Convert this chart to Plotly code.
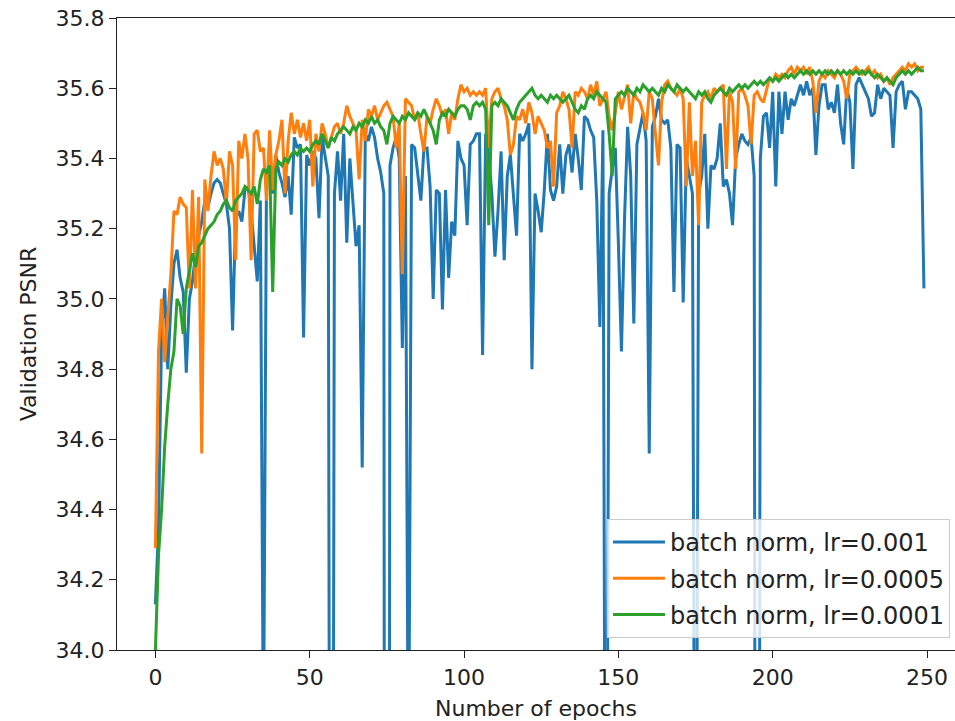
import plotly.graph_objects as go

epochs = list(range(250))

psnr_lr_0001 = [  # batch norm, lr=0.001 (blue)
    34.13, 34.35, 34.90, 35.03, 34.80, 34.98, 35.10, 35.14, 35.06, 35.02,
    34.79, 35.00, 35.05, 35.13, 35.18, 35.22, 35.28, 35.26, 35.30, 35.33,
    35.34, 35.33, 35.30, 35.27, 35.20, 34.91, 35.23, 35.25, 35.22, 35.31,
    35.32, 35.25, 35.15, 35.05, 35.28, 33.70, 35.37, 35.35, 35.30, 35.41,
    35.36, 35.33, 35.29, 35.35, 35.24, 35.46, 35.43, 35.44, 34.89, 35.41,
    35.38, 35.42, 35.40, 35.23, 35.46, 35.40, 35.35, 30.70, 35.30, 35.42,
    35.28, 35.47, 35.16, 35.40, 35.28, 35.15, 35.21, 34.52, 35.47, 35.45,
    35.49, 35.46, 35.40, 35.36, 35.30, 26.00, 35.38, 35.43, 35.46, 35.40,
    34.86, 35.35, 33.50, 35.44, 35.43, 35.35, 35.28, 35.43, 35.43, 35.32,
    35.00, 35.31, 35.30, 34.97, 35.31, 35.06, 35.22, 35.18, 35.45, 35.40,
    35.38, 35.21, 35.44, 35.45, 35.47, 35.47, 34.84, 35.47, 35.41, 35.30,
    35.12, 35.25, 35.42, 35.11, 35.35, 35.41, 35.30, 35.18, 35.47, 35.45,
    35.47, 35.50, 34.80, 35.30, 35.25, 35.19, 35.31, 35.47, 35.31, 35.28,
    35.32, 35.44, 35.30, 35.41, 35.44, 35.36, 35.47, 35.40, 35.31, 35.52,
    35.51, 35.48, 35.46, 35.28, 34.92, 35.48, 32.60, 35.30, 35.37, 35.43,
    35.16, 34.85, 35.23, 35.49, 35.35, 34.93, 35.44, 35.49, 35.53, 35.45,
    34.56, 35.49, 35.52, 35.57, 35.51, 35.50, 35.51, 35.43, 35.02, 35.44,
    35.43, 34.99, 35.40, 35.35, 35.30, 32.60, 35.30, 35.35, 35.47, 35.20,
    35.38, 35.37, 35.40, 35.50, 35.32, 35.34, 35.30, 35.21, 35.40, 35.44,
    35.47, 35.45, 35.44, 35.46, 35.35, 29.00, 35.40, 35.52, 35.53, 35.43,
    35.59, 35.32, 35.59, 35.47, 35.59, 35.51, 35.57, 35.55, 35.58, 35.61,
    35.58, 35.62, 35.58, 35.60, 35.41, 35.55, 35.61, 35.61, 35.54, 35.56,
    35.53, 35.61, 35.50, 35.44, 35.60, 35.56, 35.37, 35.61, 35.63, 35.61,
    35.59, 35.57, 35.52, 35.53, 35.61, 35.57, 35.60, 35.59, 35.58, 35.43,
    35.59, 35.61, 35.62, 35.54, 35.59, 35.59, 35.58, 35.57, 35.54, 35.03,
]

psnr_lr_00005 = [  # batch norm, lr=0.0005 (orange)
    34.29, 34.85, 35.00, 34.82, 34.95, 35.07, 35.25, 35.24, 35.29, 35.27,
    35.26, 35.03, 35.31, 35.03, 35.29, 34.56, 35.34, 35.25, 35.35, 35.42,
    35.38, 35.40, 35.37, 35.27, 35.42, 35.38, 35.11, 35.45, 35.40, 35.47,
    35.40, 35.11, 35.47, 35.48, 35.42, 35.43, 35.28, 35.48, 35.31, 35.41,
    35.45, 35.51, 35.30, 35.45, 35.53, 35.47, 35.51, 35.46, 35.50, 35.45,
    35.51, 35.32, 35.47, 35.42, 35.50, 35.47, 35.43, 35.46, 35.49, 35.50,
    35.47, 35.50, 35.55, 35.52, 35.50, 35.48, 35.34, 35.51, 35.45, 35.54,
    35.52, 35.55, 35.51, 35.53, 35.55, 35.56, 35.54, 35.52, 35.43, 35.50,
    35.07, 35.57, 35.56, 35.55, 35.51, 35.53, 35.47, 35.42, 35.52, 35.50,
    35.54, 35.57, 35.55, 35.52, 35.54, 35.47, 35.53, 35.51, 35.57, 35.61,
    35.59, 35.60, 35.58, 35.59, 35.58, 35.59, 35.58, 35.60, 35.43, 35.57,
    35.59, 35.60, 35.57, 35.55, 35.51, 35.41, 35.44, 35.52, 35.51, 35.54,
    35.50, 35.56, 35.53, 35.47, 35.52, 35.50, 35.48, 35.43, 35.45, 35.32,
    35.53, 35.55, 35.59, 35.57, 35.54, 35.43, 35.59, 35.58, 35.60, 35.59,
    35.57, 35.61, 35.58, 35.62, 35.55, 35.57, 35.59, 35.52, 35.48, 35.53,
    35.59, 35.54, 35.58, 35.61, 35.50, 35.59, 35.57, 35.56, 35.53, 35.48,
    35.59, 35.57, 35.47, 35.38, 35.56, 35.61, 35.62, 35.60, 35.59, 35.58,
    35.60, 35.57, 35.32, 35.56, 35.35, 35.45, 35.21, 35.56, 35.58, 35.59,
    35.57, 35.60, 35.59, 35.60, 35.61, 35.37, 35.59, 35.56, 35.37, 35.59,
    35.60, 35.58, 35.55, 35.44, 35.58, 35.59, 35.57, 35.56, 35.60, 35.63,
    35.62, 35.64, 35.63, 35.64, 35.63, 35.65, 35.66, 35.64, 35.66, 35.65,
    35.66, 35.64, 35.66, 35.62, 35.53, 35.62, 35.64, 35.63, 35.65, 35.64,
    35.63, 35.65, 35.64, 35.62, 35.57, 35.64, 35.65, 35.66, 35.65, 35.64,
    35.65, 35.66, 35.64, 35.65, 35.63, 35.64, 35.62, 35.63, 35.61, 35.63,
    35.64, 35.65, 35.66, 35.65, 35.67, 35.66, 35.67, 35.65, 35.66, 35.66,
]

psnr_lr_00001 = [  # batch norm, lr=0.0001 (green)
    34.00, 34.27, 34.40, 34.58, 34.70, 34.80, 34.85, 35.00, 34.98, 34.90,
    35.03, 35.08, 35.13, 35.09, 35.15, 35.16, 35.18, 35.20, 35.21, 35.22,
    35.24, 35.25, 35.27, 35.28, 35.26, 35.25, 35.28, 35.29, 35.30, 35.32,
    35.31, 35.30, 35.32, 35.27, 35.34, 35.37, 35.36, 35.38, 35.02, 35.37,
    35.39, 35.38, 35.40, 35.39, 35.41, 35.42, 35.41, 35.43, 35.42, 35.43,
    35.42, 35.44, 35.45, 35.44, 35.47, 35.45, 35.43, 35.46, 35.45, 35.47,
    35.48, 35.49, 35.48, 35.47, 35.49, 35.48, 35.50, 35.49, 35.51, 35.50,
    35.52, 35.50, 35.51, 35.49, 35.48, 35.44, 35.50, 35.52, 35.51, 35.50,
    35.52, 35.51, 35.53, 35.52, 35.51, 35.53, 35.52, 35.54, 35.52, 35.50,
    35.48, 35.44, 35.51, 35.53, 35.52, 35.54, 35.53, 35.52, 35.54, 35.55,
    35.55, 35.54, 35.51, 35.55, 35.56, 35.55, 35.56, 35.54, 35.21, 35.55,
    35.56, 35.55, 35.57, 35.56, 35.55, 35.53, 35.51, 35.54, 35.56, 35.57,
    35.58, 35.59, 35.60, 35.58, 35.57, 35.58, 35.57, 35.56, 35.58, 35.57,
    35.58, 35.57, 35.56, 35.57, 35.58, 35.56, 35.54, 35.53, 35.55, 35.54,
    35.57, 35.58, 35.57, 35.59, 35.58, 35.57, 35.56, 35.47, 35.35, 35.57,
    35.58, 35.59, 35.58, 35.60, 35.59, 35.58, 35.60, 35.59, 35.61, 35.60,
    35.59, 35.60, 35.59, 35.58, 35.60, 35.59, 35.61, 35.60, 35.59, 35.61,
    35.60, 35.59, 35.60, 35.59, 35.58, 35.57, 35.59, 35.58, 35.59, 35.57,
    35.56, 35.58, 35.59, 35.60, 35.59, 35.58, 35.60, 35.59, 35.60, 35.61,
    35.60, 35.61, 35.60, 35.61, 35.62, 35.61, 35.62, 35.61, 35.62, 35.63,
    35.62, 35.63, 35.62, 35.63, 35.64, 35.63, 35.64, 35.63, 35.64, 35.65,
    35.64, 35.65, 35.64, 35.65, 35.64, 35.65, 35.64, 35.65, 35.64, 35.65,
    35.64, 35.65, 35.64, 35.65, 35.64, 35.65, 35.64, 35.65, 35.64, 35.65,
    35.64, 35.65, 35.64, 35.63, 35.64, 35.63, 35.62, 35.63, 35.62, 35.61,
    35.63, 35.64, 35.65, 35.64, 35.65, 35.64, 35.65, 35.66, 35.65, 35.65,
]

series_names = ["batch norm, lr=0.001", "batch norm, lr=0.0005", "batch norm, lr=0.0001"]
series_colors = ["#1f77b4", "#ff7f0e", "#2ca02c"]
series_values = [psnr_lr_0001, psnr_lr_00005, psnr_lr_00001]

x_ticks = [0, 50, 100, 150, 200, 250]
y_ticks = [34.0, 34.2, 34.4, 34.6, 34.8, 35.0, 35.2, 35.4, 35.6, 35.8]

FONT = "DejaVu Sans, Verdana, sans-serif"

fig = go.Figure()
for i, (name, col, vals) in enumerate(zip(series_names, series_colors, series_values)):
    fig.add_trace(go.Scatter(
        x=epochs, y=vals, mode="lines", name=name,
        line=dict(color=col, width=3), legendgroup=f"g{i}",
    ))

axis_common = dict(
    showline=True, linecolor="#222222", linewidth=1.3,
    ticks="outside", ticklen=7, tickwidth=1.3, tickcolor="#222222",
    showgrid=False, zeroline=False,
    tickfont=dict(family=FONT, size=22, color="#222222"),
)

fig.update_xaxes(
    range=[-12.45, 259.07], tickvals=x_ticks, mirror=True,
    title=dict(text="Number of epochs", font=dict(family=FONT, size=22, color="#222222"), standoff=12),
    **axis_common,
)
fig.update_yaxes(
    range=[34.0, 35.8], tickvals=y_ticks, tickformat=".1f", mirror=False,
    title=dict(text="Validation PSNR", font=dict(family=FONT, size=22, color="#222222"), standoff=12),
    **axis_common,
)

fig.update_layout(
    width=955, height=721,
    margin=dict(l=117, r=0, t=18, b=71),
    plot_bgcolor="white", paper_bgcolor="white",
    showlegend=True,
    legend=dict(
        x=0.994, y=0.019, xanchor="right", yanchor="bottom",
        bgcolor="rgba(255,255,255,0.8)", bordercolor="#cccccc", borderwidth=1,
        font=dict(family=FONT, size=24, color="#222222"),
        tracegroupgap=2, traceorder="grouped", itemwidth=52,
    ),
)

fig.write_html("out.html")
